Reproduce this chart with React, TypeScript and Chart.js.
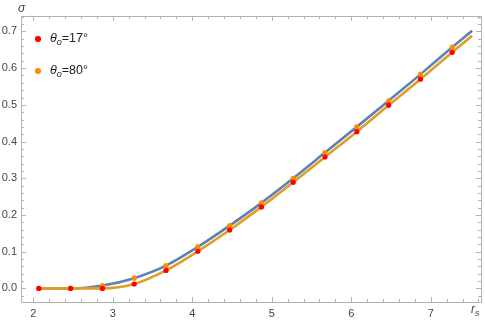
import React, { useEffect, useRef } from "react";
import { Chart, registerables } from "chart.js";

Chart.register(...registerables);

// r_s sample positions
const rs = [2.07, 2.47, 2.87, 3.27, 3.67, 4.07, 4.47, 4.87, 5.27, 5.67, 6.07, 6.47, 6.87, 7.27];
// sigma for theta_o = 17 deg (red dots, lower curve)
const sigma17 = [0, 0, 0, 0.012, 0.049, 0.101, 0.159, 0.222, 0.289, 0.358, 0.427, 0.499, 0.57, 0.643];
// sigma for theta_o = 80 deg (orange dots, upper curve)
const sigma80 = [0, 0, 0.008, 0.028, 0.062, 0.113, 0.171, 0.233, 0.3, 0.37, 0.44, 0.511, 0.583, 0.657];
// curve end points
const curveEndRs = 7.52;
const curve17End = 0.688;
const curve80End = 0.702;

const xTicks = [2, 3, 4, 5, 6, 7];
const yTicks = [0, 0.1, 0.2, 0.3, 0.4, 0.5, 0.6, 0.7];
const xMinorStep = 0.2;
const yMinorStep = 0.02;

const X_MIN = 1.846;
const X_MAX = 7.632;
const Y_MIN = -0.037;
const Y_MAX = 0.742;

const FRAME = "#b3b3b3";
const LABEL = "#444444";
const FONT = "'Liberation Sans', Arial, sans-serif";

const framePlugin = {
  id: "mmaFrame",
  beforeDatasetsDraw(chart: any) {
    const { ctx, chartArea: a, scales } = chart;
    const xs = scales.x;
    const ys = scales.y;
    ctx.save();
    ctx.strokeStyle = FRAME;
    ctx.lineWidth = 1;
    ctx.beginPath();
    ctx.rect(Math.round(a.left) + 0.5, Math.round(a.top) + 0.5, Math.round(a.right - a.left), Math.round(a.bottom - a.top));
    ctx.stroke();
    const major = 5;
    const minor = 3;
    ctx.beginPath();
    for (let v = Math.ceil(X_MIN / xMinorStep) * xMinorStep; v <= X_MAX + 1e-9; v += xMinorStep) {
      const isMajor = Math.abs(v - Math.round(v)) < 1e-6;
      const len = isMajor ? major : minor;
      const px = Math.round(xs.getPixelForValue(v)) + 0.5;
      ctx.moveTo(px, a.bottom);
      ctx.lineTo(px, a.bottom - len);
      ctx.moveTo(px, a.top);
      ctx.lineTo(px, a.top + len);
    }
    for (let v = Math.ceil(Y_MIN / yMinorStep) * yMinorStep; v <= Y_MAX + 1e-9; v += yMinorStep) {
      const isMajor = Math.abs(v * 10 - Math.round(v * 10)) < 1e-6;
      const len = isMajor ? major : minor;
      const py = Math.round(ys.getPixelForValue(v)) + 0.5;
      ctx.moveTo(a.left, py);
      ctx.lineTo(a.left + len, py);
      ctx.moveTo(a.right, py);
      ctx.lineTo(a.right - len, py);
    }
    ctx.stroke();
    ctx.restore();
  },
};

export default function App() {
  const ref = useRef<HTMLCanvasElement | null>(null);
  useEffect(() => {
    document.body.style.margin = "0";
    const pts = (ys: number[]) => rs.map((x, i) => ({ x, y: ys[i] }));
    const curve17 = [...pts(sigma17), { x: curveEndRs, y: curve17End }];
    const curve80 = [...pts(sigma80), { x: curveEndRs, y: curve80End }];
    const chart = new Chart(ref.current as HTMLCanvasElement, {
      type: "line",
      data: {
        datasets: [
          {
            label: "dots17",
            data: pts(sigma17),
            showLine: false,
            pointRadius: 2.6,
            pointBackgroundColor: "#ff0000",
            pointBorderWidth: 0,
            order: 0,
          },
          {
            label: "dots80",
            data: pts(sigma80),
            showLine: false,
            pointRadius: 2.6,
            pointBackgroundColor: "#ff8c00",
            pointBorderWidth: 0,
            order: 1,
          },
          {
            label: "curve17",
            data: curve17,
            borderColor: "#e19c24",
            borderWidth: 2.6,
            pointRadius: 0,
            cubicInterpolationMode: "monotone",
            order: 2,
          },
          {
            label: "curve80",
            data: curve80,
            borderColor: "#5e81b5",
            borderWidth: 2.6,
            pointRadius: 0,
            cubicInterpolationMode: "monotone",
            order: 3,
          },
        ],
      },
      options: {
        animation: false,
        responsive: false,
        layout: { padding: { top: 16, right: 2, left: 0, bottom: 0 } },
        plugins: { legend: { display: false }, tooltip: { enabled: false } },
        scales: {
          x: {
            type: "linear",
            min: X_MIN,
            max: X_MAX,
            grid: { display: false, drawTicks: false },
            border: { display: false },
            afterBuildTicks: (s: any) => {
              s.ticks = xTicks.map((v) => ({ value: v }));
            },
            afterFit: (s: any) => {
              s.height = 19;
            },
            ticks: {
              padding: 5,
              color: LABEL,
              font: { family: FONT, size: 11 },
              maxRotation: 0,
              autoSkip: false,
              callback: (v: any) => String(v),
            },
          },
          y: {
            type: "linear",
            min: Y_MIN,
            max: Y_MAX,
            grid: { display: false, drawTicks: false },
            border: { display: false },
            afterBuildTicks: (s: any) => {
              s.ticks = yTicks.map((v) => ({ value: v }));
            },
            afterFit: (s: any) => {
              s.width = 21;
            },
            ticks: {
              padding: 4,
              color: LABEL,
              font: { family: FONT, size: 11 },
              autoSkip: false,
              callback: (v: any) => Number(v).toFixed(1),
            },
          },
        },
      },
      plugins: [framePlugin],
    } as any);
    return () => chart.destroy();
  }, []);

  const legendText: React.CSSProperties = {
    position: "absolute",
    fontFamily: FONT,
    fontSize: 12.5,
    color: "#222",
    whiteSpace: "nowrap",
    lineHeight: "12px",
  };
  const dot = (color: string): React.CSSProperties => ({
    position: "absolute",
    width: 5.5,
    height: 5.5,
    borderRadius: "50%",
    background: color,
  });
  const subStyle: React.CSSProperties = { fontSize: 9, fontStyle: "italic", verticalAlign: "-3px", lineHeight: "9px" };

  return (
    <div style={{ position: "fixed", left: 0, top: 0, width: 485, height: 321 }}>
      <canvas ref={ref} width={485} height={321} style={{ display: "block" }} />
      <div style={{ ...dot("#ff0000"), left: 35, top: 36 }} />
      <div style={{ ...legendText, left: 50, top: 32 }}>
        <i>θ</i>
        <sub style={subStyle}>o</sub>=17°
      </div>
      <div style={{ ...dot("#ff8c00"), left: 35, top: 68 }} />
      <div style={{ ...legendText, left: 50, top: 64 }}>
        <i>θ</i>
        <sub style={subStyle}>o</sub>=80°
      </div>
      <div style={{ position: "absolute", left: 18, top: 1, fontFamily: FONT, fontSize: 12, fontStyle: "italic", color: LABEL }}>σ</div>
      <div style={{ position: "absolute", left: 471, top: 302, fontFamily: FONT, fontSize: 12, fontStyle: "italic", color: LABEL, whiteSpace: "nowrap", lineHeight: "14px" }}>
        r<sub style={{ fontSize: 9, fontStyle: "italic", verticalAlign: "-3px", lineHeight: "9px" }}>s</sub>
      </div>
    </div>
  );
}
